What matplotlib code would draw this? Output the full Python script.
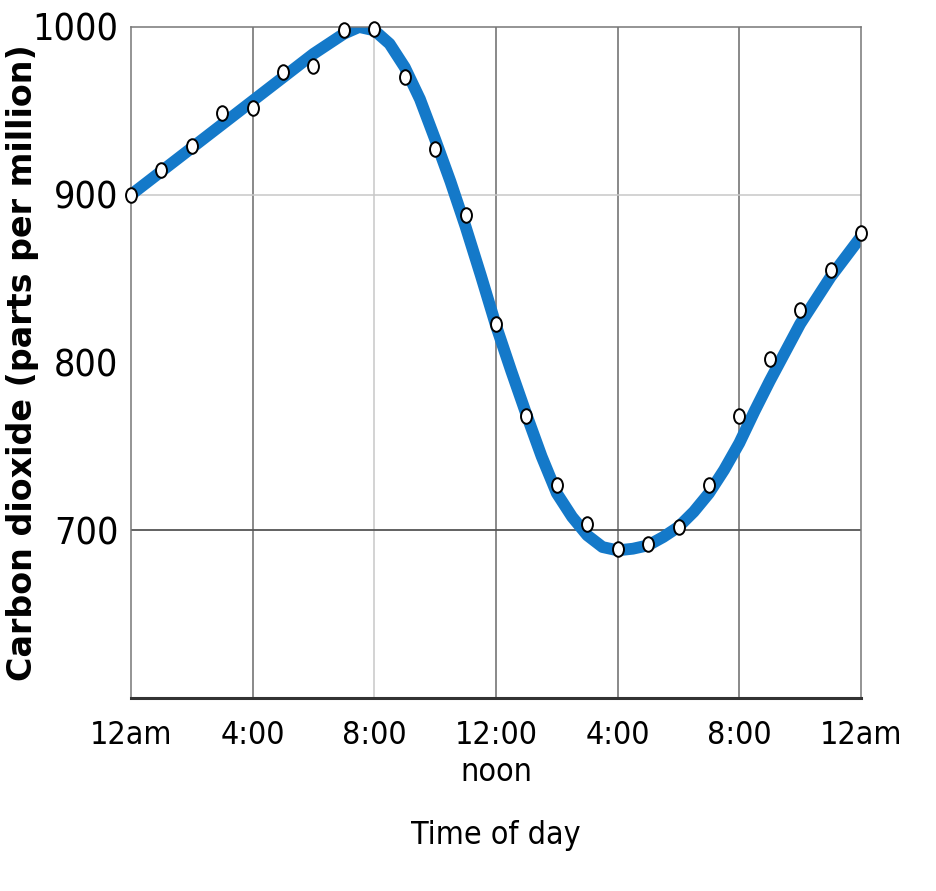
import numpy as np
import matplotlib.pyplot as plt
from matplotlib.path import Path

# measured CO2 readings, one per hour from midnight to midnight
hours = np.arange(0, 25)
co2_points = [900, 915, 929, 949, 952, 973, 977, 998, 999, 970, 927, 888, 823,
              768, 727, 704, 689, 692, 702, 727, 768, 802, 831, 855, 877]

# fitted curve every half hour
curve_hours = np.arange(0, 24.5, 0.5)
curve_co2 = [900, 907, 914, 921, 928, 935, 942, 949, 956, 963, 970, 977, 984,
             990, 996, 1000, 998, 990, 976, 957, 933, 908, 881, 852, 822,
             795, 769, 744, 722, 708, 697, 690, 688, 689, 691, 696, 702,
             711, 722, 736, 752, 771, 789, 806, 823, 837, 851, 863, 875]

xtick_pos = [0, 4, 8, 12, 16, 20, 24]
xtick_labels = ['12am', '4:00', '8:00', '12:00\nnoon', '4:00', '8:00', '12am']
ytick_pos = [700, 800, 900, 1000]

# the data dots are slightly taller than wide
circ = Path.unit_circle()
oval = Path(circ.vertices * [0.75, 1.0], circ.codes)

fig = plt.figure(figsize=(9.37, 8.91), dpi=100)
ax = fig.add_axes([0.1398, 0.2166, 0.9189 - 0.1398, 0.9697 - 0.2166])

# grid lines, some dark and some light like the original
for x in [4, 12, 16, 20]:
    ax.axvline(x, color='#6a6a6a', lw=1.1, zorder=1)
ax.axvline(8, color='#c8c8c8', lw=1.1, zorder=1)
ax.axhline(900, color='#c8c8c8', lw=1.1, zorder=1)
ax.axhline(700, color='#555555', lw=1.3, zorder=1)

ax.plot(curve_hours, curve_co2, color='#1479c9', lw=8.5,
        solid_capstyle='butt', solid_joinstyle='round', zorder=2)
ax.plot(hours, co2_points, linestyle='none', marker=oval, ms=10.5, mfc='white',
        mec='black', mew=1.4, zorder=3, clip_on=False)

ax.set_xlim(0, 24)
ax.set_ylim(600, 1000)
ax.set_xticks(xtick_pos)
ax.set_xticklabels(xtick_labels, family='DejaVu Sans', fontstretch='condensed',
                   fontsize=23, linespacing=1.25)
ax.set_yticks(ytick_pos)
ax.set_yticklabels([str(v) for v in ytick_pos], family='DejaVu Sans',
                   fontstretch='condensed', fontsize=27)
ax.tick_params(length=0, pad=16)
ax.tick_params(axis='y', pad=9)

for side in ['left', 'top', 'right']:
    ax.spines[side].set_color('#777777')
    ax.spines[side].set_linewidth(1.1)
ax.spines['bottom'].set_color('#333333')
ax.spines['bottom'].set_linewidth(2.2)

ax.set_xlabel('Time of day', family='DejaVu Sans', fontstretch='condensed',
              fontsize=23, labelpad=23)
fig.text(0.024, 0.593, 'Carbon dioxide (parts per million)', rotation=90,
         ha='center', va='center', fontsize=24, fontweight='bold',
         family='DejaVu Sans')

fig.savefig('out.png', dpi=100)
